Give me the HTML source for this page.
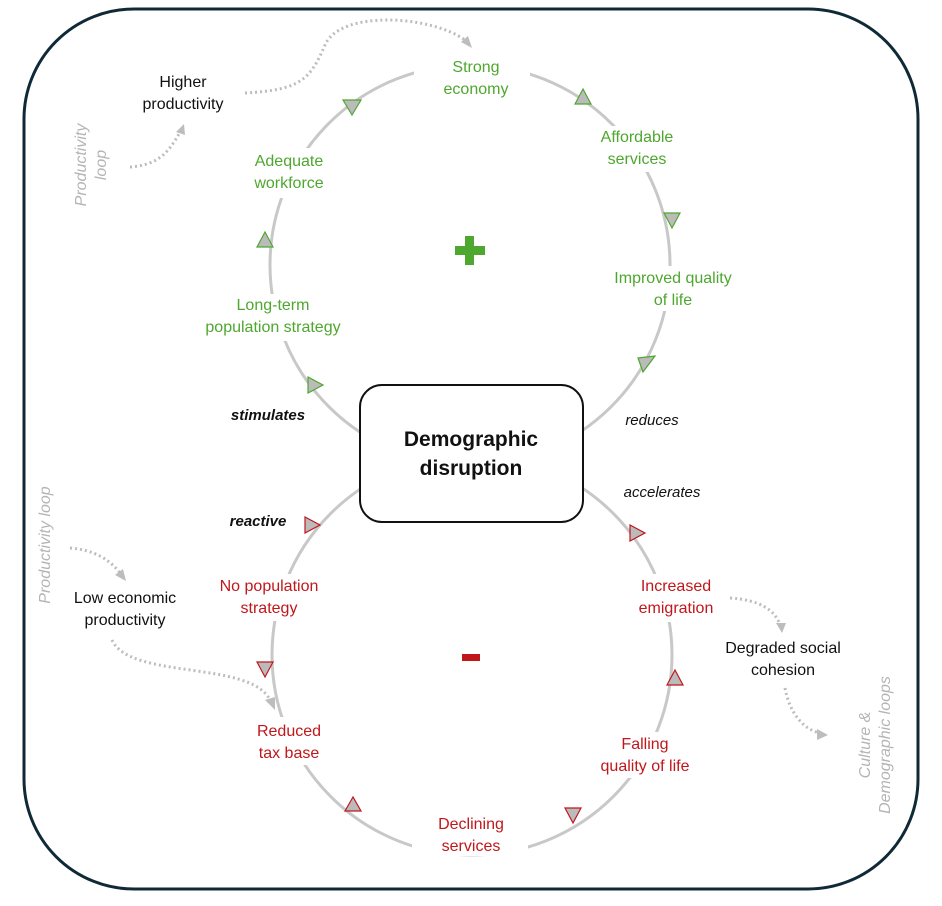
<!DOCTYPE html>
<html><head><meta charset="utf-8"><style>
body{margin:0;background:#fff;}
svg{display:block;font-family:"Liberation Sans",sans-serif;}
.g{fill:#4ea72e;font-size:16px;text-anchor:middle}
.r{fill:#c0171b;font-size:16px;text-anchor:middle}
.k{fill:#111;font-size:16px;text-anchor:middle}
.it{fill:#111;font-size:15px;font-style:italic;text-anchor:middle}
.gr{fill:#b4b4b4;font-size:16px;font-style:italic;text-anchor:middle}
.dot{fill:none;stroke:#bdbdbd;stroke-width:3;stroke-dasharray:2 3}
.ta{fill:#bbb;stroke:#4ea72e;stroke-width:1.2}
.tr{fill:#bbb;stroke:#c0171b;stroke-width:1.2}
</style></head><body>
<svg width="942" height="906" viewBox="0 0 942 906">
<rect x="24" y="9" width="894" height="880" rx="110" fill="#fff" stroke="#0f2a36" stroke-width="3"/>
<circle cx="470" cy="265" r="200" fill="none" stroke="#c8c8c8" stroke-width="3"/>
<circle cx="472" cy="655" r="200" fill="none" stroke="#c8c8c8" stroke-width="3"/>
<g fill="#fff">
<rect x="414" y="55" width="116" height="44"/>
<rect x="588" y="126" width="100" height="46"/>
<rect x="600" y="266" width="150" height="45"/>
<rect x="245" y="148" width="92" height="50"/>
<rect x="195" y="294" width="160" height="47"/>
<rect x="205" y="574" width="125" height="47"/>
<rect x="245" y="717" width="88" height="48"/>
<rect x="412" y="812" width="116" height="44"/>
<rect x="595" y="732" width="100" height="46"/>
<rect x="625" y="574" width="100" height="48"/>
</g>
<path class="dot" d="M245 93 C300 90,310 80,325 45 C340 10,430 15,465 40"/>
<polygon points="472,48 461,42 468,36" fill="#bdbdbd"/>
<path class="dot" d="M130 167 C160 165,170 150,180 132"/>
<polygon points="184,124 176,132 185,135" fill="#bdbdbd"/>
<path class="dot" d="M70 548 C95 550,110 560,120 573"/>
<polygon points="126,581 115,575 123,569" fill="#bdbdbd"/>
<path class="dot" d="M112 640 C130 680,250 660,270 700"/>
<polygon points="275,710 265,700 275,697" fill="#bdbdbd"/>
<path class="dot" d="M730 598 C760 600,775 610,780 625"/>
<polygon points="782,633 776,623 786,623" fill="#bdbdbd"/>
<path class="dot" d="M785 688 C790 715,805 730,820 733"/>
<polygon points="828,735 817,729 817,740" fill="#bdbdbd"/>
<g class="ta">
<polygon points="343,100 361,100 352,115"/>
<polygon points="265,232 257,247 273,247"/>
<polygon points="583,89 575,104 591,104"/>
<polygon points="664,213 680,213 672,228"/>
<polygon points="638,358 655,356 643,372"/>
<polygon points="308,377 308,393 323,385"/>
</g>
<g class="tr">
<polygon points="305,517 305,533 320,525"/>
<polygon points="257,662 273,662 265,677"/>
<polygon points="353,797 345,811 361,811"/>
<polygon points="565,808 581,808 573,823"/>
<polygon points="675,670 667,685 683,685"/>
<polygon points="630,525 630,541 645,533"/>
</g>
<rect x="360" y="385" width="223" height="137" rx="22" fill="#fff" stroke="#111" stroke-width="2"/>
<text x="471" y="446" font-size="21" font-weight="bold" text-anchor="middle" fill="#111">Demographic</text>
<text x="471" y="475" font-size="21" font-weight="bold" text-anchor="middle" fill="#111">disruption</text>
<rect x="455" y="246" width="30" height="9" fill="#4ea72e"/>
<rect x="465" y="236" width="9" height="29" fill="#4ea72e"/>
<rect x="462" y="654" width="18" height="7" fill="#c0171b"/>
<text class="g" x="476" y="72">Strong</text><text class="g" x="476" y="94">economy</text>
<text class="g" x="637" y="142">Affordable</text><text class="g" x="637" y="164">services</text>
<text class="g" x="673" y="283">Improved quality</text><text class="g" x="673" y="305">of life</text>
<text class="g" x="289" y="166">Adequate</text><text class="g" x="289" y="188">workforce</text>
<text class="g" x="273" y="310">Long-term</text><text class="g" x="273" y="332">population strategy</text>
<text class="r" x="269" y="591">No population</text><text class="r" x="269" y="613">strategy</text>
<text class="r" x="289" y="736">Reduced</text><text class="r" x="289" y="758">tax base</text>
<text class="r" x="471" y="829">Declining</text><text class="r" x="471" y="851">services</text>
<text class="r" x="645" y="749">Falling</text><text class="r" x="645" y="771">quality of life</text>
<text class="r" x="676" y="591">Increased</text><text class="r" x="676" y="613">emigration</text>
<text class="k" x="183" y="87">Higher</text><text class="k" x="183" y="109">productivity</text>
<text class="k" x="125" y="603">Low economic</text><text class="k" x="125" y="625">productivity</text>
<text class="k" x="783" y="653">Degraded social</text><text class="k" x="783" y="675">cohesion</text>
<text class="it" x="268" y="420" font-weight="bold">stimulates</text>
<text class="it" x="258" y="526" font-weight="bold">reactive</text>
<text class="it" x="652" y="425">reduces</text>
<text class="it" x="662" y="497">accelerates</text>
<text class="gr" transform="translate(86,165) rotate(-90)">Productivity</text>
<text class="gr" transform="translate(106,165) rotate(-90)">loop</text>
<text class="gr" transform="translate(50,545) rotate(-90)">Productivity  loop</text>
<text class="gr" transform="translate(870,745) rotate(-90)">Culture &amp;</text>
<text class="gr" transform="translate(890,745) rotate(-90)">Demographic  loops</text>
</svg>
</body></html>
